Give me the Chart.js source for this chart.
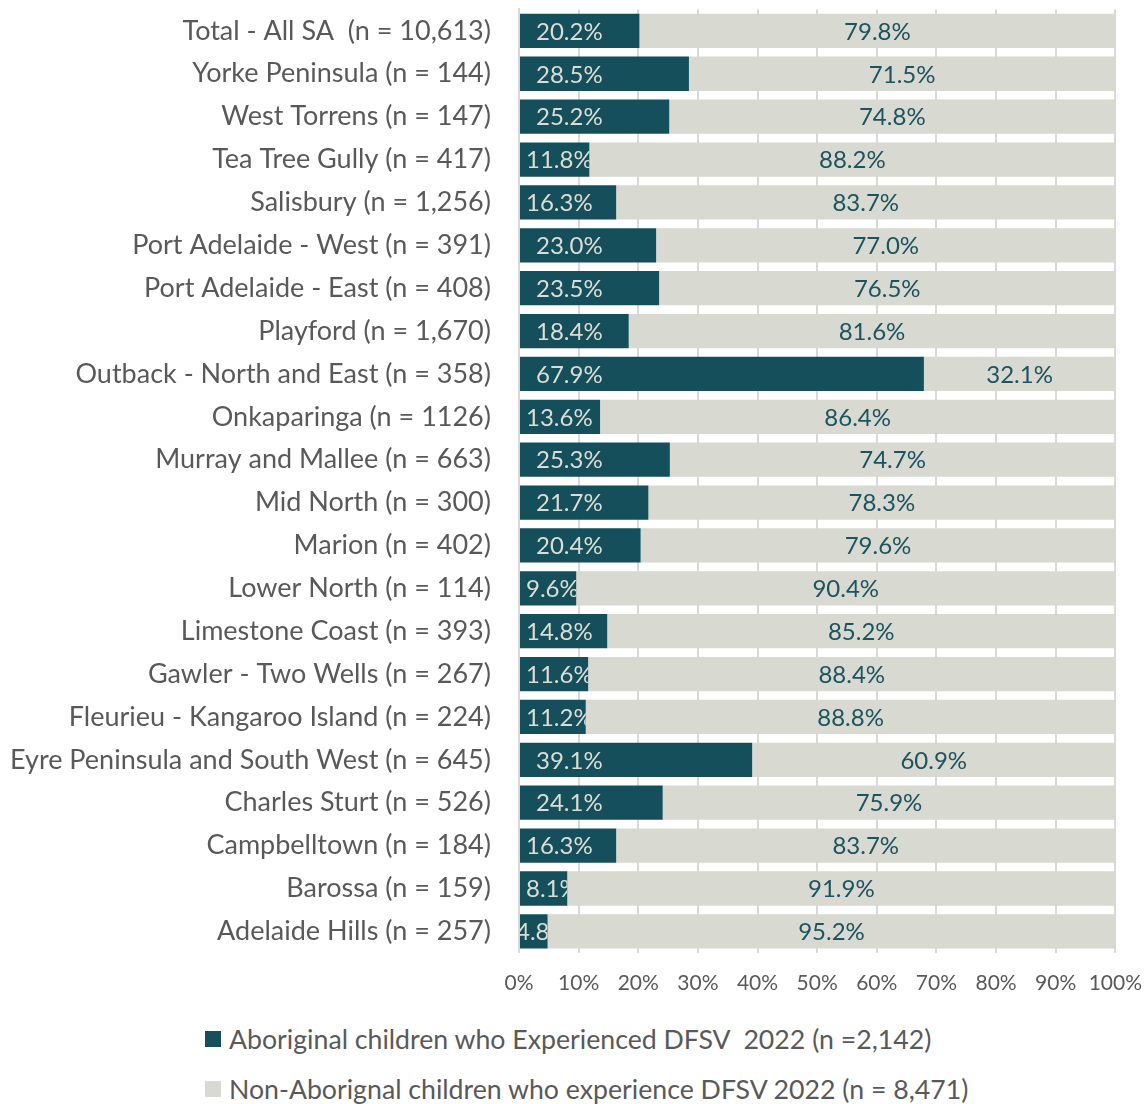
<!DOCTYPE html>
<html>
<head>
<meta charset="utf-8">
<script src="https://cdn.jsdelivr.net/npm/chart.js@4"></script>
<style>
  html, body { margin: 0; padding: 0; background: #fff; }
  #wrap { width: 1147px; height: 1010px; position: relative; }
  #legend { position: absolute; left: 205px; top: 1014px; font-family: Lato, sans-serif; font-size: 26.7px; color: #595959; }
  .leg-row { display: flex; align-items: center; height: 50px; white-space: pre; }
  .leg-box { width: 16px; height: 16px; margin-right: 8px; }
</style>
</head>
<body>
<div id="wrap"><canvas id="chart"></canvas></div>
<div id="legend"></div>
<script>
// ─── data ────────────────────────────────────────────────────────────────────
const regions = [
  'Total - All SA  (n = 10,613)',
  'Yorke Peninsula (n = 144)',
  'West Torrens (n = 147)',
  'Tea Tree Gully (n = 417)',
  'Salisbury (n = 1,256)',
  'Port Adelaide - West (n = 391)',
  'Port Adelaide - East (n = 408)',
  'Playford (n = 1,670)',
  'Outback - North and East (n = 358)',
  'Onkaparinga (n = 1126)',
  'Murray and Mallee (n = 663)',
  'Mid North (n = 300)',
  'Marion (n = 402)',
  'Lower North (n = 114)',
  'Limestone Coast (n = 393)',
  'Gawler - Two Wells (n = 267)',
  'Fleurieu - Kangaroo Island (n = 224)',
  'Eyre Peninsula and South West (n = 645)',
  'Charles Sturt (n = 526)',
  'Campbelltown (n = 184)',
  'Barossa (n = 159)',
  'Adelaide Hills (n = 257)'
];
const aboriginalPct = [20.2, 28.5, 25.2, 11.8, 16.3, 23.0, 23.5, 18.4, 67.9, 13.6, 25.3,
                       21.7, 20.4, 9.6, 14.8, 11.6, 11.2, 39.1, 24.1, 16.3, 8.1, 4.8];
const nonAboriginalPct = [79.8, 71.5, 74.8, 88.2, 83.7, 77.0, 76.5, 81.6, 32.1, 86.4, 74.7,
                          78.3, 79.6, 90.4, 85.2, 88.4, 88.8, 60.9, 75.9, 83.7, 91.9, 95.2];
const seriesNames = [
  'Aboriginal children who Experienced DFSV  2022 (n =2,142)',
  'Non-Aborignal children who experience DFSV 2022 (n = 8,471)'
];
const xTicks = [0, 10, 20, 30, 40, 50, 60, 70, 80, 90, 100];

const palette = { teal: '#154f5b', stone: '#d8d9d0', text: '#595959', grid: '#d9d9d9',
                  onTeal: '#dcddd4', onStone: '#1b5360' };

// ─── value labels, clipped to their own bar like the spreadsheet does ───────
const barLabels = {
  id: 'barLabels',
  afterDatasetsDraw(chart) {
    const ctx = chart.ctx;
    ctx.save();
    ctx.font = '24px Lato';
    ctx.textBaseline = 'middle';
    chart.data.datasets.forEach((ds, di) => {
      chart.getDatasetMeta(di).data.forEach((bar, i) => {
        const left = Math.min(bar.base, bar.x), right = Math.max(bar.base, bar.x);
        const top = bar.y - bar.height / 2, w = right - left;
        const txt = ds.data[i].toFixed(1) + '%';
        const tw = ctx.measureText(txt).width;
        let tx;
        if (di === 1) tx = left + (w - tw) / 2;            // centred
        else if (w >= tw + 32) tx = left + 16;             // inside base
        else if (w >= tw - 10) tx = left + 6;              // tight fit
        else tx = left - 4;                                // overflow, cut off
        ctx.save();
        ctx.beginPath();
        ctx.rect(left, top, w, bar.height);
        ctx.clip();
        ctx.fillStyle = di === 0 ? palette.onTeal : palette.onStone;
        ctx.textAlign = 'left';
        ctx.fillText(txt, tx, bar.y + 1);
        ctx.restore();
      });
    });
    ctx.restore();
  }
};

Chart.defaults.font.family = 'Lato';
Chart.defaults.color = palette.text;

const chart = new Chart(document.getElementById('chart'), {
  type: 'bar',
  data: {
    labels: regions,
    datasets: [
      { label: seriesNames[0], data: aboriginalPct, backgroundColor: palette.teal },
      { label: seriesNames[1], data: nonAboriginalPct, backgroundColor: palette.stone }
    ]
  },
  options: {
    indexAxis: 'y',
    responsive: true,
    maintainAspectRatio: false,
    animation: false,
    layout: { padding: { top: 0, right: 24, bottom: 9, left: 10 } },
    datasets: { bar: { barPercentage: 0.8, categoryPercentage: 1 } },
    plugins: { legend: { display: false }, tooltip: { enabled: false } },
    scales: {
      x: {
        stacked: true, min: 0, max: 100,
        afterBuildTicks: s => { s.ticks = xTicks.map(v => ({ value: v })); },
        grid: { color: palette.grid, lineWidth: 2, tickLength: 13, tickColor: 'rgba(0,0,0,0)' },
        border: { display: false },
        ticks: { font: { size: 21 }, padding: 5, maxRotation: 0, callback: v => v + '%' }
      },
      y: {
        stacked: true,
        grid: { display: false, tickLength: 28 },
        border: { display: true, color: palette.grid, width: 2 },
        ticks: { font: { size: 27, lineHeight: 0.7 }, padding: 0, autoSkip: false }
      }
    }
  },
  plugins: [barLabels]
});

// ─── legend ─────────────────────────────────────────────────────────────────
const legendEl = document.getElementById('legend');
chart.data.datasets.forEach(ds => {
  const row = document.createElement('div');
  row.className = 'leg-row';
  row.innerHTML = `<span class="leg-box" style="background:${ds.backgroundColor}"></span>${ds.label}`;
  legendEl.appendChild(row);
});
</script>
</body>
</html>
